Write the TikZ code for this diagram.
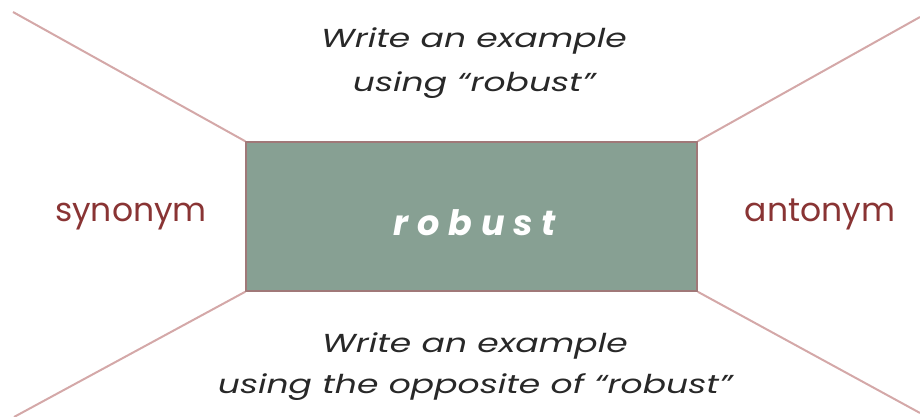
\documentclass[tikz,border=0pt]{standalone}
\usepackage{fontspec}
\setmainfont{Poppins}
\definecolor{boxgreen}{RGB}{135, 160, 147}
\definecolor{boxedge}{RGB}{160, 120, 120}
\definecolor{linepink}{RGB}{212, 168, 168}
\definecolor{wordred}{RGB}{137, 52, 52}
\definecolor{textgray}{RGB}{40, 40, 40}
\usetikzlibrary{positioning}

\begin{document}
\begin{tikzpicture}[x=1pt, y=-1pt,
  prompt/.style={font=\fontsize{26}{44}\selectfont\itshape\addfontfeature{FakeStretch=1.33}, text=textgray, align=center, anchor=base},
  side/.style={font=\fontsize{33}{40}\selectfont, text=wordred, anchor=base}]
  \useasboundingbox (0, 0) rectangle (920, 417);

  % Center box
  \node[draw=boxedge, line width=1.5pt, fill=boxgreen, minimum width=451pt, minimum height=149pt] (word) at (471.5, 216.5) {};
  \node[font=\fontsize{35}{40}\selectfont\itshape\bfseries\addfontfeature{LetterSpace=25}, text=white, anchor=base] (wordtext) at (475, 235) {robust};

  % Corner lines
  \coordinate (tl) at (13, 12);
  \coordinate (tr) at (920, 17);
  \coordinate (bl) at (14, 417);
  \coordinate (br) at (920, 413);
  \draw[linepink, line width=2pt] (word.north west) -- (tl);
  \draw[linepink, line width=2pt] (word.north east) -- (tr);
  \draw[linepink, line width=2pt] (word.south west) -- (bl);
  \draw[linepink, line width=2pt] (word.south east) -- (br);

  % Prompts (base is the last line)
  \node[prompt] (above) at (474, 92) {Write an example\\using “robust”};
  \node[prompt, font=\fontsize{26}{41}\selectfont\itshape\addfontfeature{FakeStretch=1.33}] (below) at (475, 393) {Write an example\\using the opposite of “robust”};

  % Side words
  \node[side] (syn) at (131, 221) {synonym};
  \node[side] (ant) at (820, 221) {antonym};
\end{tikzpicture}
\end{document}
